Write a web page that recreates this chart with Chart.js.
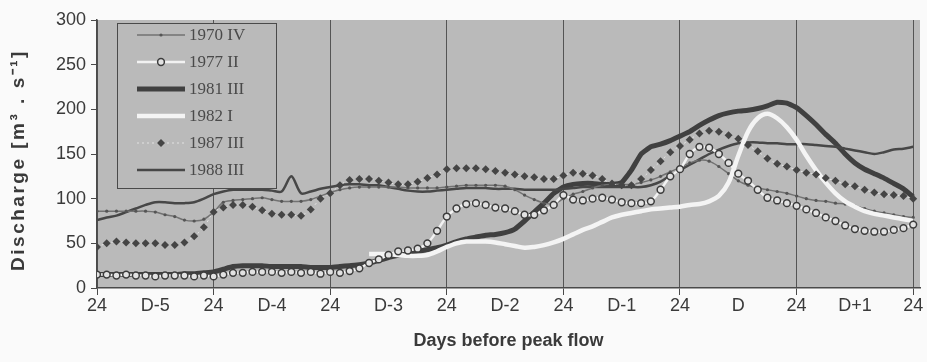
<!DOCTYPE html>
<html>
<head>
<meta charset="utf-8">
<script src="https://cdn.jsdelivr.net/npm/chart.js@4.4.1/dist/chart.umd.min.js"></script>
<style>
  html, body { margin: 0; padding: 0; background: #fafafa; }
  #wrap { width: 927px; height: 362px; position: relative; }
</style>
</head>
<body>
<div id="wrap"><canvas id="chart"></canvas></div>
<script>
// Hours from the start of the window, one reading every 2 hours (7 days)
const hours = [0, 2, 4, 6, 8, 10, 12, 14, 16, 18, 20, 22, 24, 26, 28, 30, 32, 34, 36, 38, 40, 42,
  44, 46, 48, 50, 52, 54, 56, 58, 60, 62, 64, 66, 68, 70, 72, 74, 76, 78, 80, 82, 84, 86, 88,
  90, 92, 94, 96, 98, 100, 102, 104, 106, 108, 110, 112, 114, 116, 118, 120, 122, 124, 126,
  128, 130, 132, 134, 136, 138, 140, 142, 144, 146, 148, 150, 152, 154, 156, 158, 160, 162,
  164, 166, 168];

// Tick labels every 12 hours
const tickHours = [0, 12, 24, 36, 48, 60, 72, 84, 96, 108, 120, 132, 144, 156, 168];
const tickLabels = ['24', 'D-5', '24', 'D-4', '24', 'D-3', '24', 'D-2', '24', 'D-1', '24', 'D', '24', 'D+1', '24'];

const seriesNames = ['1970 IV', '1977 II', '1981 III', '1982 I', '1987 III', '1988 III'];

const flow1970 = [86, 86, 86, 86, 86, 86, 85, 82, 80, 76, 75, 77, 85, 96, 98, 99, 100, 101, 99, 97,
  97, 97, 99, 103, 107, 110, 112, 113, 113, 113, 113, 113, 112, 112, 112, 112, 113, 114, 115,
  115, 115, 115, 114, 110, 104, 99, 95, 94, 100, 105, 108, 112, 115, 116, 116, 116, 118, 121,
  125, 130, 135, 140, 143, 142, 136, 128, 120, 115, 112, 110, 108, 106, 103, 100, 98, 97, 95,
  94, 92, 89, 86, 84, 82, 80, 79];

const flow1977 = [15, 15, 14, 15, 14, 14, 13, 14, 14, 14, 13, 14, 13, 15, 17, 17, 18, 18, 18, 17,
  18, 17, 18, 16, 18, 17, 19, 22, 28, 32, 37, 41, 42, 44, 50, 64, 80, 89, 94, 95, 93, 90, 89,
  86, 82, 82, 87, 93, 104, 99, 98, 100, 101, 99, 96, 95, 95, 97, 110, 125, 133, 150, 158, 157,
  150, 140, 128, 120, 110, 101, 98, 95, 92, 88, 84, 79, 75, 70, 66, 64, 63, 63, 65, 67, 71];

const flow1981 = [15, 15, 15, 15, 15, 15, 15, 15, 15, 16, 16, 17, 18, 21, 24, 25, 25, 25, 24, 24,
  24, 24, 23, 23, 23, 24, 25, 26, 28, 31, 34, 37, 39, 41, 43, 45, 48, 52, 55, 57, 59, 60, 62,
  66, 75, 85, 95, 106, 113, 116, 117, 117, 116, 116, 118, 132, 150, 158, 161, 165, 170, 175,
  182, 188, 193, 196, 198, 199, 201, 204, 208, 207, 202, 193, 183, 172, 162, 150, 140, 133,
  128, 123, 117, 111, 102];

const flow1982 = [null, null, null, null, null, null, null, null, null, null, null, null, null,
  null, null, null, null, null, null, null, null, null, null, null, null, null, null, null,
  38, 38, 38, 37, 36, 36, 37, 41, 46, 50, 52, 52, 52, 51, 49, 47, 45, 46, 48, 51, 55, 60, 65,
  69, 74, 79, 82, 84, 86, 88, 89, 90, 91, 93, 94, 97, 103, 118, 148, 175, 190, 195, 190, 180,
  166, 148, 132, 118, 106, 97, 91, 86, 83, 81, 79, 77, 75];

const flow1987 = [46, 50, 52, 51, 50, 50, 50, 48, 48, 51, 58, 68, 85, 90, 93, 93, 91, 87, 83, 82,
  82, 81, 88, 100, 106, 115, 121, 122, 122, 120, 118, 116, 116, 119, 123, 127, 133, 134, 134,
  134, 133, 131, 129, 127, 125, 124, 122, 122, 126, 129, 128, 126, 122, 117, 115, 115, 122,
  132, 142, 152, 159, 166, 173, 176, 175, 171, 167, 160, 153, 145, 139, 136, 132, 129, 127,
  123, 120, 116, 114, 110, 107, 105, 104, 103, 100];

const flow1988 = [76, 79, 81, 85, 89, 93, 96, 96, 95, 95, 96, 100, 105, 108, 110, 110, 110, 110,
  109, 108, 125, 106, 108, 111, 113, 115, 116, 116, 115, 115, 113, 111, 109, 108, 108, 109, 110,
  111, 112, 112, 112, 111, 111, 111, 110, 110, 110, 110, 111, 112, 113, 113, 113, 113, 113, 113,
  113, 115, 119, 126, 132, 138, 144, 150, 155, 159, 162, 163, 163, 162, 162, 161, 161, 161, 160,
  159, 158, 156, 154, 152, 150, 152, 155, 156, 158];

const yTicks = [0, 50, 100, 150, 200, 250, 300];
const yTitle = 'Discharge [m³ . s⁻¹]';

const PLOT_BG = '#bababa';
const AXIS = '#4a4a4a';
const TEXT = '#3a3a3a';

function toPoints(values) {
  return hours.map((h, i) => ({ x: h, y: values[i] }));
}

// Grey plot area behind the lines
const plotBackground = {
  id: 'plotBackground',
  beforeDraw(chart) {
    const { ctx, chartArea } = chart;
    ctx.save();
    ctx.fillStyle = PLOT_BG;
    ctx.fillRect(chartArea.left, chartArea.top, chartArea.right - chartArea.left, chartArea.bottom - chartArea.top);
    ctx.restore();
  }
};

// Rotated y title, drawn by hand so it can be letter-spaced like the scan
const yAxisTitle = {
  id: 'yAxisTitle',
  afterDraw(chart) {
    const ctx = chart.ctx;
    const area = chart.chartArea;
    ctx.save();
    ctx.translate(19, (area.top + area.bottom) / 2 + 6);
    ctx.rotate(-Math.PI / 2);
    ctx.font = 'bold 19px Arial, "Liberation Sans", sans-serif';
    ctx.letterSpacing = '2.5px';
    ctx.fillStyle = TEXT;
    ctx.textAlign = 'center';
    ctx.textBaseline = 'middle';
    ctx.fillText(yTitle, 0, 0);
    ctx.restore();
  }
};

// Boxed legend sitting inside the plot, top left
const boxLegend = {
  id: 'boxLegend',
  afterDatasetsDraw(chart) {
    const ctx = chart.ctx;
    const x0 = 117, y0 = 23, w = 159, h = 165;
    ctx.save();
    ctx.fillStyle = PLOT_BG;
    ctx.fillRect(x0, y0, w, h);
    ctx.strokeStyle = AXIS;
    ctx.lineWidth = 1;
    ctx.strokeRect(x0 + 0.5, y0 + 0.5, w, h);

    chart.data.datasets.forEach((ds, i) => {
      const y = 35 + i * 27;
      ctx.save();
      ctx.strokeStyle = ds.borderColor;
      ctx.lineWidth = ds.borderWidth;
      ctx.setLineDash(ds.borderDash || []);
      ctx.beginPath();
      ctx.moveTo(137, y);
      ctx.lineTo(185, y);
      ctx.stroke();
      ctx.setLineDash([]);
      if (ds.pointRadius > 0) {
        ctx.fillStyle = ds.pointBackgroundColor;
        ctx.strokeStyle = ds.pointBorderColor;
        ctx.lineWidth = ds.pointBorderWidth || 0;
        ctx.beginPath();
        if (ds.pointStyle === 'rectRot') {
          const r = ds.pointRadius;
          ctx.moveTo(161, y - r); ctx.lineTo(161 + r, y); ctx.lineTo(161, y + r); ctx.lineTo(161 - r, y);
          ctx.closePath();
        } else {
          ctx.arc(161, y, ds.pointRadius, 0, Math.PI * 2);
        }
        ctx.fill();
        if (ds.pointBorderWidth) ctx.stroke();
      }
      ctx.restore();
      ctx.fillStyle = '#4a4a4a';
      ctx.font = '17px "Liberation Serif", "Times New Roman", serif';
      ctx.textBaseline = 'middle';
      ctx.fillText(ds.label, 189, y + 1);
    });
    ctx.restore();
  }
};

const datasets = [
  {
    label: seriesNames[0],
    data: toPoints(flow1970),
    borderColor: '#727272',
    borderWidth: 1.5,
    pointRadius: 1.6,
    pointStyle: 'circle',
    pointBackgroundColor: '#555555',
    pointBorderColor: '#555555',
    pointBorderWidth: 0,
    tension: 0.3,
    order: 4
  },
  {
    label: seriesNames[1],
    data: toPoints(flow1977),
    borderColor: '#f2f2f2',
    borderWidth: 2.5,
    pointRadius: 3.4,
    pointStyle: 'circle',
    pointBackgroundColor: '#e2e2e2',
    pointBorderColor: '#3c3c3c',
    pointBorderWidth: 1.5,
    tension: 0.3,
    order: 1
  },
  {
    label: seriesNames[2],
    data: toPoints(flow1981),
    borderColor: '#404040',
    borderWidth: 5,
    pointRadius: 0,
    tension: 0.1,
    order: 6
  },
  {
    label: seriesNames[3],
    data: toPoints(flow1982),
    borderColor: '#f4f4f4',
    borderWidth: 4.5,
    pointRadius: 0,
    tension: 0.3,
    order: 3
  },
  {
    label: seriesNames[4],
    data: toPoints(flow1987),
    borderColor: 'rgba(238,238,238,0.8)',
    borderWidth: 1,
    borderDash: [2, 3],
    pointRadius: 4,
    pointStyle: 'rectRot',
    pointBackgroundColor: '#454545',
    pointBorderColor: '#454545',
    pointBorderWidth: 0,
    tension: 0.3,
    order: 2
  },
  {
    label: seriesNames[5],
    data: toPoints(flow1988),
    borderColor: '#474747',
    borderWidth: 2.5,
    pointRadius: 0,
    tension: 0.3,
    order: 5
  }
];

new Chart(document.getElementById('chart'), {
  type: 'line',
  data: { datasets: datasets },
  plugins: [plotBackground, boxLegend, yAxisTitle],
  options: {
    responsive: true,
    maintainAspectRatio: false,
    animation: false,
    layout: { padding: { top: 20, right: 7, left: 0, bottom: 0 } },
    plugins: {
      legend: { display: false },
      tooltip: { enabled: false }
    },
    scales: {
      x: {
        type: 'linear',
        min: 0,
        max: 169.4,
        afterFit(scale) { scale.height = 74; },
        afterBuildTicks(scale) {
          scale.ticks = tickHours.map(v => ({ value: v }));
        },
        ticks: {
          autoSkip: false,
          maxRotation: 0,
          padding: 0,
          color: TEXT,
          font: { family: 'Arial, "Liberation Sans", sans-serif', size: 18 },
          callback: (value) => tickLabels[tickHours.indexOf(value)]
        },
        grid: {
          color: (c) => (c.tick && c.tick.value % 24 === 0) ? '#555555' : 'rgba(0,0,0,0)',
          tickColor: (c) => (c.tick && c.tick.value % 24 === 0) ? AXIS : 'rgba(0,0,0,0)',
          tickLength: 7,
          lineWidth: 1
        },
        border: { color: AXIS, width: 1.5 },
        title: {
          display: true,
          text: 'Days before peak flow',
          color: TEXT,
          font: { family: 'Arial, "Liberation Sans", sans-serif', size: 18, weight: 'bold' },
          padding: { top: 0, bottom: 10 }
        }
      },
      y: {
        min: 0,
        max: 300,
        afterFit(scale) { scale.width = 97; },
        afterBuildTicks(scale) {
          scale.ticks = yTicks.map(v => ({ value: v }));
        },
        ticks: {
          padding: 5,
          color: TEXT,
          font: { family: 'Arial, "Liberation Sans", sans-serif', size: 18 }
        },
        grid: {
          drawOnChartArea: false,
          tickLength: 6,
          tickColor: AXIS
        },
        border: { color: AXIS, width: 1.5 },
        title: { display: false }
      }
    }
  }
});
</script>
</body>
</html>
